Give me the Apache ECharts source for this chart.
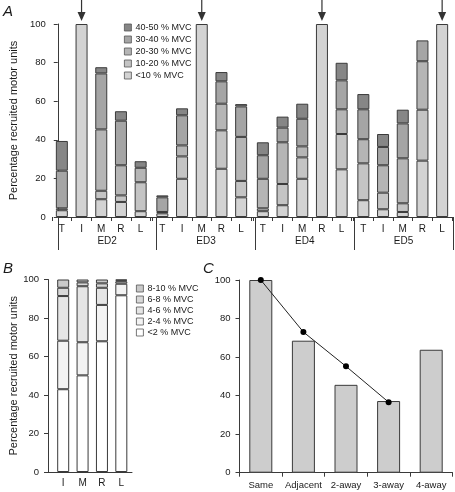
<!DOCTYPE html>
<html><head><meta charset="utf-8">
<script src="https://cdn.jsdelivr.net/npm/echarts@6/dist/echarts.min.js"></script>
<style>html,body{margin:0;padding:0;background:#fff}#c{width:455px;height:492px}</style>
</head><body><div id="c"></div>
<script>
// ---------- Panel A data ----------
const groupsA = ['ED2', 'ED3', 'ED4', 'ED5'];
const digitsA = ['T', 'I', 'M', 'R', 'L'];
const levelsA = ['<10 % MVC', '10-20 % MVC', '20-30 % MVC', '30-40 % MVC', '40-50 % MVC'];
// values per level, 20 bars in order ED2 T..L, ED3 T..L, ED4 T..L, ED5 T..L
const lvlA_lt10  = [3.5, 100, 9.2, 7.8, 3.0,   1.9, 19.8, 100, 25.0, 10.2,   3.0, 6.1, 19.8, 100, 24.7,   8.7, 4.0, 2.6, 29.2, 100];
const lvlA_10_20 = [1.0, 0, 4.4, 3.4, 15.0,    0.7, 11.6, 0, 19.9, 8.5,      1.5, 11.0, 11.1, 0, 18.3,    19.1, 8.6, 4.5, 26.4, 0];
const lvlA_20_30 = [0, 0, 31.8, 15.6, 7.5,     0, 5.7, 0, 13.8, 22.8,        15.3, 21.6, 5.7, 0, 12.8,    12.5, 14.2, 23.3, 25.1, 0];
const lvlA_30_40 = [19.5, 0, 29.0, 23.1, 0,    7.6, 15.6, 0, 11.6, 15.8,     12.2, 7.6, 14.3, 0, 15.0,    15.5, 9.5, 18.1, 10.8, 0];
const lvlA_40_50 = [15.4, 0, 3.2, 4.9, 3.4,    1.0, 3.6, 0, 4.8, 1.2,        6.7, 5.7, 7.8, 0, 9.1,       7.9, 6.7, 7.1, 0, 0];
const arrowDigitA = ['I', 'M', 'R', 'L']; // stimulated digit in each group (100 %)

// ---------- Panel B data ----------
const digitsB = ['I', 'M', 'R', 'L'];
const levelsB = ['<2 % MVC', '2-4 % MVC', '4-6 % MVC', '6-8 % MVC', '8-10 % MVC'];
const lvlB_lt2 = [43.0, 50.2, 67.9, 91.8];
const lvlB_2_4 = [25.2, 17.2, 18.9, 6.0];
const lvlB_4_6 = [23.2, 29.1, 8.9, 1.2];
const lvlB_6_8 = [4.3, 2.0, 2.3, 0.5];
const lvlB_8_10 = [4.3, 1.5, 2.0, 0.5];

// ---------- Panel C data ----------
const catsC = ['Same', 'Adjacent', '2-away', '3-away', '4-away'];
const barsC = [100, 68.5, 45.6, 37.2, 63.8];
const lineC = [100, 73.0, 55.2, 36.6, null];

// ---------- styles ----------
const colorsA = ['#d3d3d3', '#c4c4c4', '#b5b5b5', '#a5a5a5', '#868686'];
const colorsB = ['#ffffff', '#f3f3f3', '#e5e5e5', '#d8d8d8', '#c9c9c9'];
const FONT = 'Liberation Sans, Arial, sans-serif';
const TXT = '#1a1a1a';
const AX = '#3a3a3a';

const levelDataA = [lvlA_lt10, lvlA_10_20, lvlA_20_30, lvlA_30_40, lvlA_40_50];
const levelDataB = [lvlB_lt2, lvlB_2_4, lvlB_4_6, lvlB_6_8, lvlB_8_10];

const grid = [], xAxis = [], yAxis = [], series = [];
const nz = v => (v > 0 ? v : null);

// grid 0: full panel A (y axis + group axis)
grid.push({ left: 51, width: 402, top: 24, height: 193 });
xAxis.push({ gridIndex: 0, type: 'category', data: groupsA, boundaryGap: true,
  axisLine: { show: true, lineStyle: { color: AX, width: 1 } },
  axisTick: { show: true, length: 33, lineStyle: { color: AX } },
  axisLabel: { margin: 19, fontSize: 10, color: TXT, fontFamily: FONT } });
yAxis.push({ gridIndex: 0, type: 'value', min: 0, max: 100, interval: 20,
  name: 'Percentage recruited motor units', nameLocation: 'middle', nameGap: 31, nameRotate: 90,
  nameTextStyle: { fontSize: 11, color: TXT, fontFamily: FONT },
  axisLine: { show: true, lineStyle: { color: AX } },
  axisTick: { show: true, length: 4, lineStyle: { color: AX } },
  axisLabel: { margin: 12, fontSize: 9.5, color: TXT, fontFamily: FONT },
  splitLine: { show: false } });

// grids 1-4: the groups of panel A
groupsA.forEach((g, k) => {
  const gi = k + 1;
  grid.push({ left: 52 + k * 100.5, width: 98.5, top: 24, height: 193 });
  xAxis.push({ gridIndex: gi, type: 'category', data: digitsA, boundaryGap: true,
    axisLine: { show: false },
    axisTick: { show: true, length: 4, lineStyle: { color: AX } },
    axisLabel: { margin: 7, fontSize: 10, color: TXT, fontFamily: FONT } });
  yAxis.push({ gridIndex: gi, type: 'value', min: 0, max: 100, show: false, splitLine: { show: false } });
  levelsA.forEach((lv, l) => {
    series.push({ type: 'bar', name: lv, xAxisIndex: gi, yAxisIndex: gi, stack: 'A' + k,
      barWidth: 12, data: levelDataA[l].slice(k * 5, k * 5 + 5).map(nz),
      itemStyle: { color: colorsA[l], borderColor: AX, borderWidth: 1 },
      silent: true, animation: false });
  });
  series.push({ type: 'scatter', xAxisIndex: gi, yAxisIndex: gi, silent: true, animation: false,
    data: [[arrowDigitA[k], 100]],
    symbol: 'path://M4.4,0 L5.6,0 L5.6,12 L9,12 L5,21 L1,12 L4.4,12 Z',
    symbolSize: [8, 21], symbolOffset: [0, -13.5],
    itemStyle: { color: '#000' }, z: 5 });
});

// grid 5: panel B axes frame
grid.push({ left: 48, width: 84, top: 279.5, height: 192.5 });
xAxis.push({ gridIndex: 5, type: 'category', data: ['x'],
  axisLine: { show: true, lineStyle: { color: AX } }, axisTick: { show: false }, axisLabel: { show: false } });
yAxis.push({ gridIndex: 5, type: 'value', min: 0, max: 100, interval: 20,
  name: 'Percentage recruited motor units', nameLocation: 'middle', nameGap: 28, nameRotate: 90,
  nameTextStyle: { fontSize: 11, color: TXT, fontFamily: FONT },
  axisLine: { show: true, lineStyle: { color: AX } },
  axisTick: { show: true, length: 4, lineStyle: { color: AX } },
  axisLabel: { margin: 9, fontSize: 9.5, color: TXT, fontFamily: FONT },
  splitLine: { show: false } });

// grid 6: panel B bars
grid.push({ left: 53.5, width: 77.5, top: 279.5, height: 192.5 });
xAxis.push({ gridIndex: 6, type: 'category', data: digitsB,
  axisLine: { show: false }, axisTick: { show: false },
  axisLabel: { margin: 6, fontSize: 10, color: TXT, fontFamily: FONT } });
yAxis.push({ gridIndex: 6, type: 'value', min: 0, max: 100, show: false, splitLine: { show: false } });
levelsB.forEach((lv, l) => {
  series.push({ type: 'bar', name: lv, xAxisIndex: 6, yAxisIndex: 6, stack: 'B',
    barWidth: 12, data: levelDataB[l].map(nz),
    itemStyle: { color: colorsB[l], borderColor: AX, borderWidth: 1 },
    silent: true, animation: false });
});

// grid 7: panel C
grid.push({ left: 239.5, width: 213, top: 280, height: 192.7 });
xAxis.push({ gridIndex: 7, type: 'category', data: catsC,
  axisLine: { show: true, lineStyle: { color: AX } },
  axisTick: { show: true, length: 4, lineStyle: { color: AX } },
  axisLabel: { margin: 8, fontSize: 9.5, color: TXT, fontFamily: FONT, interval: 0 } });
yAxis.push({ gridIndex: 7, type: 'value', min: 0, max: 100, interval: 20,
  axisLine: { show: true, lineStyle: { color: AX } },
  axisTick: { show: true, length: 4, lineStyle: { color: AX } },
  axisLabel: { margin: 9, fontSize: 9.5, color: TXT, fontFamily: FONT },
  splitLine: { show: false } });
series.push({ type: 'bar', xAxisIndex: 7, yAxisIndex: 7, barWidth: 23, data: barsC,
  itemStyle: { color: '#cdcdcd', borderColor: AX, borderWidth: 1 }, silent: true, animation: false });
series.push({ type: 'line', xAxisIndex: 7, yAxisIndex: 7, data: lineC,
  symbol: 'circle', symbolSize: 6, itemStyle: { color: '#000' },
  lineStyle: { color: '#222', width: 1 }, silent: true, animation: false, z: 5 });

const option = {
  backgroundColor: '#fff',
  animation: false,
  grid, xAxis, yAxis, series,
  legend: [
    { data: levelsA.slice().reverse(), orient: 'vertical', left: 119, top: 18,
      itemWidth: 7, itemHeight: 7, itemGap: 3, icon: 'rect', selectedMode: false,
      itemStyle: { borderColor: '#555', borderWidth: 0.8 },
      textStyle: { fontSize: 9, color: TXT, fontFamily: FONT, padding: [0, 0, 0, -1] } },
    { data: levelsB.slice().reverse(), orient: 'vertical', left: 131, top: 279,
      itemWidth: 7, itemHeight: 7, itemGap: 2, icon: 'rect', selectedMode: false,
      itemStyle: { borderColor: '#555', borderWidth: 0.8 },
      textStyle: { fontSize: 9, color: TXT, fontFamily: FONT, padding: [0, 0, 0, -1] } }
  ],
  graphic: [
    { type: 'text', left: 3, top: 4, style: { text: 'A', font: 'italic 15px ' + FONT, fill: TXT } },
    { type: 'text', left: 3, top: 261, style: { text: 'B', font: 'italic 15px ' + FONT, fill: TXT } },
    { type: 'text', left: 203, top: 261, style: { text: 'C', font: 'italic 15px ' + FONT, fill: TXT } }
  ]
};
const chart = echarts.init(document.getElementById('c'), null, { renderer: 'canvas' });
chart.setOption(option);
</script>
</body></html>
